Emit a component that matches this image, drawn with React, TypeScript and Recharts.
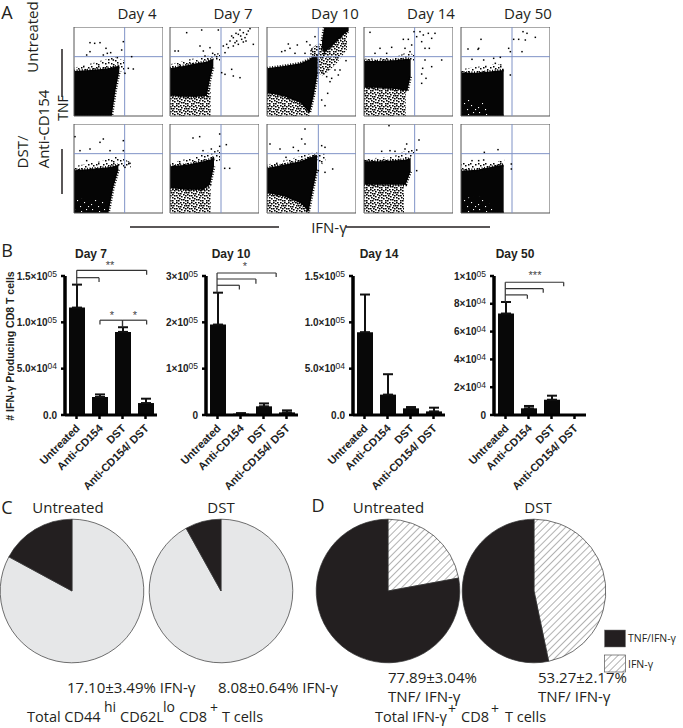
import React from "react";
import {
  Area,
  Bar,
  BarChart,
  Cell,
  ComposedChart,
  ErrorBar,
  Pie,
  PieChart,
  ReferenceArea,
  ReferenceLine,
  Scatter,
  XAxis,
  YAxis,
} from "recharts";

// flow plots: [x, low, high] outlines and [x, y] events, channel scale 0-267
type Band = [number, number, number];
type Dot = [number, number];

const channelTicks = [0, 20, 32, 40, 88, 110, 122, 130, 175, 198, 210, 218, 258];
const tnfGate = 178;

const d4uCore: Band[] = [[0, 0, 135], [50, 0, 138], [90, 0, 142], [113, 0, 145], [125, 80, 148], [136, 135, 152]];
const d4uFringe: Band[] = [[0, 130, 145], [60, 135, 160], [120, 140, 178], [155, 130, 165]];
const d4uDots: Dot[] = [[48, 220], [62, 218], [78, 220], [96, 203], [100, 188], [38, 183], [118, 168], [148, 223], [143, 198], [173, 178], [178, 141], [163, 143], [153, 128], [48, 193], [88, 183], [110, 190], [130, 175]];

const d7uCore: Band[] = [[0, 63, 143], [40, 58, 150], [80, 58, 158], [110, 60, 163], [120, 110, 168], [130, 150, 172]];
const d7uLow: Band[] = [[0, 0, 70], [60, 0, 65], [110, 0, 65], [122, 0, 100]];
const d7uFringe: Band[] = [[0, 140, 155], [60, 150, 170], [110, 160, 180], [150, 165, 190]];
const d7uDots: Dot[] = [[170, 215], [190, 235], [205, 245], [220, 250], [230, 245], [200, 225], [180, 225], [215, 230], [195, 220], [225, 235], [210, 258], [235, 255], [185, 240], [205, 215], [175, 205], [160, 210], [240, 262], [220, 222], [190, 210], [212, 240], [198, 248], [228, 225], [165, 190], [50, 250], [95, 258], [145, 258], [90, 210], [100, 195], [120, 205], [105, 180], [25, 195], [15, 195], [128, 188], [140, 178], [155, 130], [165, 125], [185, 140], [190, 120], [210, 115], [250, 215]];

const d10uCore: Band[] = [[0, 70, 143], [50, 60, 150], [100, 40, 158], [128, 10, 170], [140, 60, 178], [152, 130, 182]];
const d10uHigh: Band[] = [[165, 205, 225], [172, 190, 267], [200, 215, 267], [230, 245, 267], [245, 255, 267]];
const d10uLow: Band[] = [[0, 0, 75], [50, 0, 65], [100, 0, 50], [128, 0, 30]];
const d10uBridge: Band[] = [[130, 150, 200], [150, 130, 215], [170, 120, 220], [210, 160, 250], [240, 200, 262]];
const d10uDots: Dot[] = [[64, 216], [91, 213], [54, 196], [69, 203], [84, 188], [119, 223], [129, 213], [144, 238], [134, 198], [114, 188], [44, 193], [182, 68], [164, 48], [174, 31], [189, 103], [204, 138], [219, 138], [237, 166], [194, 113], [179, 118], [169, 128], [214, 123]];

const d14uCore: Band[] = [[0, 85, 165], [50, 85, 165], [100, 80, 168], [130, 75, 172], [140, 120, 170]];
const d14uLow: Band[] = [[0, 0, 90], [60, 0, 85], [115, 0, 80], [125, 0, 85]];
const d14uFringe: Band[] = [[0, 165, 172], [90, 165, 175], [125, 170, 190], [150, 165, 185]];
const d14uDots: Dot[] = [[150, 253], [168, 253], [178, 243], [193, 248], [213, 248], [203, 233], [173, 223], [183, 203], [196, 203], [158, 238], [18, 251], [48, 203], [33, 188], [83, 206], [118, 230], [133, 230], [123, 203], [143, 213], [138, 193], [68, 188], [183, 168], [233, 168], [203, 148], [176, 143], [173, 126], [186, 113], [173, 98]];

const d50uCore: Band[] = [[0, 0, 130], [50, 0, 130], [100, 0, 135], [128, 0, 138]];
const d50uHoles: Band[] = [[5, 3, 50], [60, 3, 45], [90, 3, 15]];
const d50uFringe: Band[] = [[0, 125, 140], [100, 130, 155], [130, 135, 155]];
const d50uDots: Dot[] = [[21, 201], [53, 203], [51, 200], [60, 230], [158, 230], [173, 230], [186, 253], [198, 248], [193, 228], [223, 236], [183, 193], [143, 203], [148, 193], [33, 170], [68, 168], [98, 173], [118, 176], [103, 158], [148, 123]];

const d4tCore: Band[] = [[0, 0, 128], [50, 0, 132], [103, 0, 137], [118, 77, 140], [133, 130, 145]];
const d4tHoles: Band[] = [[3, 3, 40], [50, 3, 50], [95, 3, 30]];
const d4tFringe: Band[] = [[0, 128, 140], [80, 132, 155], [130, 140, 170], [170, 135, 152]];
const d4tDots: Dot[] = [[3, 229], [88, 222], [78, 212], [48, 192], [18, 187], [38, 157], [108, 187], [148, 217], [148, 187], [168, 149], [153, 137]];

const d7tCore: Band[] = [[0, 75, 140], [50, 70, 145], [100, 70, 155], [120, 85, 160], [132, 140, 168]];
const d7tLow: Band[] = [[0, 0, 80], [60, 0, 72], [110, 0, 75], [122, 0, 80]];
const d7tFringe: Band[] = [[0, 140, 150], [60, 145, 165], [110, 155, 180], [150, 155, 190]];
const d7tDots: Dot[] = [[69, 225], [89, 229], [149, 237], [169, 205], [149, 200], [124, 192], [164, 134], [179, 134], [99, 187]];

const d10tCore: Band[] = [[0, 60, 135], [50, 50, 145], [100, 30, 155], [125, 5, 165], [140, 80, 170], [150, 130, 175]];
const d10tLow: Band[] = [[0, 0, 65], [50, 0, 55], [100, 0, 35], [128, 0, 10]];
const d10tFringe: Band[] = [[0, 130, 145], [80, 150, 165], [140, 165, 182], [175, 140, 178]];
const d10tDots: Dot[] = [[114, 252], [104, 222], [114, 207], [9, 207], [39, 192], [79, 197], [94, 187], [164, 202], [174, 197], [197, 132], [174, 122], [154, 127], [57, 167]];

const d14tCore: Band[] = [[0, 85, 155], [50, 85, 155], [100, 85, 158], [125, 85, 160], [140, 125, 165]];
const d14tLow: Band[] = [[0, 0, 90], [50, 0, 85], [115, 0, 85], [120, 0, 90]];
const d14tFringe: Band[] = [[0, 150, 162], [90, 155, 170], [130, 160, 190], [150, 175, 190]];
const d14tDots: Dot[] = [[75, 262], [165, 219], [158, 189], [128, 207], [78, 187], [53, 185], [93, 185], [123, 192], [158, 127]];

const d50tCore: Band[] = [[0, 0, 127], [50, 0, 130], [100, 0, 140], [128, 0, 145]];
const d50tHoles: Band[] = [[5, 3, 45], [60, 3, 50], [95, 3, 20]];
const d50tFringe: Band[] = [[0, 125, 150], [90, 130, 150], [130, 140, 160]];
const d50tDots: Dot[] = [[111, 190], [70, 182], [33, 157], [53, 157], [68, 159], [151, 147], [151, 132]];

// hand-placed grains for the dense and thin fill textures
const denseGrains: Dot[] = [[0, 0], [2, 1], [4, 0], [6, 1], [8, 0], [10, 1], [12, 0], [13, 2], [1, 3], [3, 3], [5, 3], [8, 3], [10, 4], [12, 4], [0, 5], [2, 6], [4, 5], [6, 6], [8, 6], [11, 6], [13, 7], [1, 8], [4, 8], [6, 9], [9, 8], [11, 9], [13, 10], [0, 10], [2, 11], [4, 11], [8, 11], [10, 11]];
const thinGrains: Dot[] = [[1, 1], [4, 0], [6, 2], [9, 1], [11, 0], [13, 3], [3, 5], [6, 6], [9, 5], [13, 7], [0, 9], [3, 10], [6, 9], [9, 10], [11, 11]];
const holeGrains: Dot[] = [[2, 1], [9, 3], [14, 1], [5, 6], [12, 8], [1, 10], [8, 12], [16, 12]];

// bars
const groups = ["Untreated", "Anti-CD154", "DST", "Anti-CD154/ DST"];
const groupSlots = [0.5, 1.5, 2.5, 3.5];

const day7Means = [115900, 19400, 89700, 12900];
const day7Errors = [24800, 2800, 5000, 4700];
const day10Means = [195200, 3000, 18700, 5700];
const day10Errors = [68800, 1000, 6300, 4300];
const day14Means = [89400, 22000, 7200, 3900];
const day14Errors = [40600, 22000, 1400, 4000];
const day50Means = [73000, 4800, 11000, 0];
const day50Errors = [8300, 1700, 2900, 0];

const day7Ticks = [0, 50000, 100000, 150000];
const day7Labels = ["0.0", "5.0×10|04", "1.0×10|05", "1.5×10|05"];
const day10Ticks = [0, 100000, 200000, 300000];
const day10Labels = ["0", "1×10|05", "2×10|05", "3×10|05"];
const day50Ticks = [0, 20000, 40000, 60000, 80000, 100000];
const day50Labels = ["0", "2×10|04", "4×10|04", "6×10|04", "8×10|04", "1×10|05"];

// brackets: from, to (in group widths), top, left end, right end
type Bracket = [number, number, number, number, number];
const day7Brackets: Bracket[] = [
  [0.51, 3.55, 156100, 140700, 151400],
  [0.51, 1.48, 148200, 148200, 143500],
  [1.52, 2.5, 102300, 97600, 94700],
  [2.5, 3.55, 102300, 94700, 97600],
];
const day10Brackets: Bracket[] = [
  [0.48, 3.05, 306500, 264000, 298000],
  [0.48, 2.17, 293500, 293500, 283500],
  [0.48, 1.45, 280000, 280000, 271000],
];
const day50Brackets: Bracket[] = [
  [0.49, 3.03, 95500, 81300, 92600],
  [0.49, 2.14, 90900, 90900, 88000],
  [0.49, 1.45, 86400, 86400, 83700],
];

// pies
const cUntreated = [82.9, 17.1];
const cDst = [91.92, 8.08];
const dUntreated = [22.11, 77.89];
const dDst = [46.73, 53.27];

const ink = "#231f20";
const gateBlue = "#7f92c6";
const sans = "'Open Sans', sans-serif";
const arial = "'Liberation Sans', Arial, sans-serif";

function toRows(bands: Band[]) {
  return bands.map(([x, low, high]) => ({ x, band: [low, high] }));
}

const DotShape = (props: any) => <rect x={props.cx - 0.75} y={props.cy - 0.75} width={1.5} height={1.5} fill="#000" />;

function FlowPlot({ left, top, gate, solid = [], haze = [], fringe = [], holes = [], dots }: {
  left: number;
  top: number;
  gate: number;
  solid?: Band[][];
  haze?: Band[][];
  fringe?: Band[][];
  holes?: Band[][];
  dots: Dot[];
}) {
  const textured = (bands: Band[][], prefix: string, fill: string) =>
    bands.map((b, i) => (
      <Area key={prefix + i} data={toRows(b)} dataKey="band" type="linear" stroke="none" fill={fill} fillOpacity={1} dot={false} activeDot={false} isAnimationActive={false} />
    ));
  return (
    <div style={{ position: "absolute", left: left - 2, top }}>
      <ComposedChart width={91} height={91} margin={{ top: 0, right: 0, bottom: 2, left: 2 }}>
        <XAxis type="number" dataKey="x" domain={[0, 267]} ticks={channelTicks} height={0} tickSize={2} axisLine={false} tickFormatter={() => ""} stroke="#333" allowDataOverflow />
        <YAxis type="number" dataKey="y" domain={[0, 267]} ticks={channelTicks} width={0} tickSize={2} axisLine={false} tickFormatter={() => ""} stroke="#333" allowDataOverflow />
        {textured(fringe, "f", "url(#thin)")}
        {textured(haze, "h", "url(#speckle)")}
        {solid.map((b, i) => (
          <Area key={"s" + i} data={toRows(b)} dataKey="band" type="linear" stroke="#000" strokeWidth={3} strokeDasharray="1 1.6" fill="#050505" fillOpacity={1} dot={false} activeDot={false} isAnimationActive={false} />
        ))}
        {textured(holes, "o", "url(#holes)")}
        <Scatter data={dots.map(([x, y]) => ({ x, y }))} shape={DotShape} isAnimationActive={false} />
        <ReferenceLine x={gate} stroke={gateBlue} strokeWidth={1} />
        <ReferenceLine y={tnfGate} stroke={gateBlue} strokeWidth={1} />
        <ReferenceArea x1={0} x2={267} y1={0} y2={267} fill="none" stroke="#555" strokeWidth={1} />
      </ComposedChart>
    </div>
  );
}

const ValueTick = ({ x, y, index, labels }: any) => {
  const [base, exp] = labels[index].split("|");
  return (
    <text x={x - 2} y={y + 3.5} textAnchor="end" fontFamily={arial} fontWeight="bold" fontSize={10} fill="#222">
      {base}
      {exp && <tspan fontSize={8.5} fontWeight="normal" dy={-3}>{exp}</tspan>}
    </text>
  );
};

const GroupTick = ({ x, y, payload }: any) => (
  <text x={x + 4} y={y + 8} transform={`rotate(-45 ${x + 4} ${y + 8})`} textAnchor="end" fontFamily={arial} fontWeight="bold" fontSize={11} fill="#222">
    {payload.value}
  </text>
);

function BarPanel({ axisX, means, errors, ticks, labels, max, brackets = [] }: {
  axisX: number;
  means: number[];
  errors: number[];
  ticks: number[];
  labels: string[];
  max: number;
  brackets?: Bracket[];
}) {
  const rows = groups.map((group, i) => ({ group, slot: groupSlots[i], mean: means[i], err: [0, errors[i]] }));
  const bracketLines: [number, number, number, number][] = [];
  brackets.forEach(([from, to, topY, leftEnd, rightEnd]) => {
    bracketLines.push([from, topY, to, topY], [from, topY, from, leftEnd], [to, topY, to, rightEnd]);
  });
  return (
    <div style={{ position: "absolute", left: axisX - 60, top: 256 }}>
      <BarChart width={172} height={239} data={rows} margin={{ top: 20, right: 20, bottom: 0, left: 0 }} style={{ overflow: "visible" }}>
        <XAxis dataKey="group" height={80} interval={0} tickSize={4} tick={<GroupTick />} axisLine={{ stroke: "#000", strokeWidth: 3 }} tickLine={{ stroke: "#000", strokeWidth: 2.5 }} />
        <XAxis xAxisId="band" dataKey="slot" type="number" domain={[0, 4]} allowDataOverflow hide />
        <YAxis width={60} domain={[0, max]} ticks={ticks} interval={0} tickSize={4} tick={<ValueTick labels={labels} />} axisLine={{ stroke: "#000", strokeWidth: 3.5 }} tickLine={{ stroke: "#000", strokeWidth: 2.5 }} />
        <Bar dataKey="mean" barSize={16} fill="#080808" isAnimationActive={false}>
          <ErrorBar dataKey="err" direction="y" width={5} stroke="#111" strokeWidth={2} isAnimationActive={false} />
        </Bar>
        {bracketLines.map(([x1, y1, x2, y2], i) => (
          <ReferenceLine
            key={i}
            xAxisId="band"
            ifOverflow="visible"
            segment={[{ x: x1, y: y1 }, { x: x2, y: y2 }]}
            stroke="#333"
            strokeWidth={1.2}
          />
        ))}
      </BarChart>
    </div>
  );
}

function PiePanel({ cx, values, colors }: { cx: number; values: number[]; colors: string[] }) {
  const rows = values.map((value) => ({ value }));
  return (
    <div style={{ position: "absolute", left: cx - 73, top: 518 }}>
      <PieChart width={146} height={146} margin={{ top: 0, right: 0, bottom: 0, left: 0 }}>
        <Pie data={rows} dataKey="value" cx={73} cy={73} innerRadius={0} outerRadius={71.8} startAngle={90} endAngle={-270} stroke="#333" strokeWidth={0.7} isAnimationActive={false}>
          {rows.map((_, i) => (
            <Cell key={i} fill={colors[i]} />
          ))}
        </Pie>
      </PieChart>
    </div>
  );
}

const Label = ({ x, y, size = 15, rotate, anchor = "middle", font = sans, bold, color = ink, children }: any) => (
  <text
    x={x}
    y={y}
    fontSize={size}
    fontFamily={font}
    fontWeight={bold ? "bold" : "normal"}
    textAnchor={anchor}
    dominantBaseline="central"
    fill={color}
    transform={rotate ? `rotate(${rotate} ${x} ${y})` : undefined}
  >
    {children}
  </text>
);

function Annotations() {
  return (
    <svg width={683} height={728} style={{ position: "absolute", left: 0, top: 0, pointerEvents: "none" }}>
      <Label x={7} y={12} size={18}>A</Label>
      <Label x={137} y={13}>Day 4</Label>
      <Label x={233} y={13}>Day 7</Label>
      <Label x={335} y={13}>Day 10</Label>
      <Label x={431} y={13}>Day 14</Label>
      <Label x={528} y={13}>Day 50</Label>
      <Label x={32} y={37} rotate={-90}>Untreated</Label>
      <Label x={22} y={152} rotate={-90}>DST/</Label>
      <Label x={43} y={129} rotate={-90}>Anti-CD154</Label>
      <Label x={62} y={108} size={14} rotate={-90}>TNF</Label>
      <line x1={62} y1={49} x2={62} y2={97} stroke={ink} strokeWidth={1.5} />
      <line x1={62} y1={149} x2={62} y2={194} stroke={ink} strokeWidth={1.5} />
      <line x1={130} y1={227} x2={279} y2={227} stroke={ink} strokeWidth={1.5} />
      <line x1={346} y1={227} x2={490} y2={227} stroke={ink} strokeWidth={1.5} />
      <Label x={329} y={227}>IFN-γ</Label>

      <Label x={7} y={250} size={18}>B</Label>
      <Label x={91} y={254} size={12} font={arial} bold>Day 7</Label>
      <Label x={231} y={254} size={12} font={arial} bold>Day 10</Label>
      <Label x={379} y={254} size={12} font={arial} bold>Day 14</Label>
      <Label x={515} y={254} size={12} font={arial} bold>Day 50</Label>
      <Label x={10} y={346} size={10.5} rotate={-90} font={arial} bold># IFN-γ Producing CD8 T cells</Label>
      <Label x={110} y={265} size={11} font={arial} color="#444">**</Label>
      <Label x={112} y={315} size={11} font={arial} color="#444">*</Label>
      <Label x={135} y={315} size={11} font={arial} color="#444">*</Label>
      <Label x={245} y={266} size={11} font={arial} color="#444">*</Label>
      <Label x={535} y={275} size={11} font={arial} color="#444">***</Label>

      <Label x={7} y={507} size={18}>C</Label>
      <Label x={68} y={507}>Untreated</Label>
      <Label x={221} y={507}>DST</Label>
      <Label x={318} y={505} size={18}>D</Label>
      <Label x={388.5} y={507}>Untreated</Label>
      <Label x={538} y={507}>DST</Label>

      <Label x={67} y={687} size={15} anchor="start">17.10±3.49% IFN-γ</Label>
      <Label x={218} y={687} size={15} anchor="start">8.08±0.64% IFN-γ</Label>
      <text y={722} fontFamily={sans} fontSize={14.5} fill={ink}>
        <tspan x={27}>Total CD44</tspan>
        <tspan x={104} fontSize={14} dy={-10}>hi</tspan>
        <tspan x={120} dy={10}>CD62L</tspan>
        <tspan x={163} fontSize={14} dy={-10}>lo</tspan>
        <tspan x={179} dy={10}>CD8</tspan>
        <tspan x={210} fontSize={14} dy={-9}>+</tspan>
        <tspan x={222} dy={9}>T cells</tspan>
      </text>
      <Label x={388} y={677} size={15} anchor="start">77.89±3.04%</Label>
      <Label x={388} y={696} size={15} anchor="start">TNF/ IFN-γ</Label>
      <Label x={538} y={677} size={15} anchor="start">53.27±2.17%</Label>
      <Label x={538} y={696} size={15} anchor="start">TNF/ IFN-γ</Label>
      <text y={722} fontFamily={sans} fontSize={14.5} fill={ink}>
        <tspan x={375}>Total IFN-γ</tspan>
        <tspan x={448} fontSize={14} dy={-8}>+</tspan>
        <tspan x={461} dy={8}>CD8</tspan>
        <tspan x={491} fontSize={14} dy={-8}>+</tspan>
        <tspan x={505} dy={8}>T cells</tspan>
      </text>

      <rect x={604.5} y={630} width={21} height={17} fill={ink} stroke="#777" strokeWidth={0.5} />
      <rect x={604.5} y={655} width={21} height={17} fill="url(#hatch)" stroke="#555" strokeWidth={0.7} />
      <Label x={628} y={638} size={10.5} anchor="start">TNF/IFN-γ</Label>
      <Label x={628} y={664} size={10.5} anchor="start">IFN-γ</Label>
    </svg>
  );
}

export default function App() {
  const gray = "#e6e7e8";
  return (
    <div style={{ position: "absolute", left: 0, top: 0, width: 683, height: 728, background: "#fff", overflow: "hidden" }}>
      <svg width={0} height={0} style={{ position: "absolute" }}>
        <defs>
          <pattern id="speckle" width={15} height={13} patternUnits="userSpaceOnUse">
            {denseGrains.map(([x, y], i) => (
              <rect key={i} x={x} y={y} width={1.6} height={1.5} fill="#000" />
            ))}
          </pattern>
          <pattern id="thin" width={15} height={13} patternUnits="userSpaceOnUse">
            {thinGrains.map(([x, y], i) => (
              <rect key={i} x={x} y={y} width={1.5} height={1.5} fill="#000" />
            ))}
          </pattern>
          <pattern id="holes" width={18} height={14} patternUnits="userSpaceOnUse">
            {holeGrains.map(([x, y], i) => (
              <rect key={i} x={x} y={y} width={1.1} height={1.1} fill="#fff" />
            ))}
          </pattern>
          <pattern id="hatch" width={5} height={5} patternUnits="userSpaceOnUse" patternTransform="rotate(45)">
            <rect width={5} height={5} fill="#fff" />
            <line x1={0} y1={0} x2={0} y2={5} stroke="#555" strokeWidth={0.9} />
          </pattern>
        </defs>
      </svg>

      <FlowPlot left={74} top={27} gate={152} solid={[d4uCore]} fringe={[d4uFringe]} dots={d4uDots} />
      <FlowPlot left={170} top={27} gate={153} solid={[d7uCore]} haze={[d7uLow]} fringe={[d7uFringe]} dots={d7uDots} />
      <FlowPlot left={267} top={27} gate={154} solid={[d10uCore, d10uHigh]} haze={[d10uLow, d10uBridge]} dots={d10uDots} />
      <FlowPlot left={364} top={27} gate={152} solid={[d14uCore]} haze={[d14uLow]} fringe={[d14uFringe]} dots={d14uDots} />
      <FlowPlot left={461} top={27} gate={153} solid={[d50uCore]} fringe={[d50uFringe]} holes={[d50uHoles]} dots={d50uDots} />

      <FlowPlot left={74} top={124} gate={152} solid={[d4tCore]} fringe={[d4tFringe]} holes={[d4tHoles]} dots={d4tDots} />
      <FlowPlot left={170} top={124} gate={153} solid={[d7tCore]} haze={[d7tLow]} fringe={[d7tFringe]} dots={d7tDots} />
      <FlowPlot left={267} top={124} gate={154} solid={[d10tCore]} haze={[d10tLow]} fringe={[d10tFringe]} dots={d10tDots} />
      <FlowPlot left={364} top={124} gate={152} solid={[d14tCore]} haze={[d14tLow]} fringe={[d14tFringe]} dots={d14tDots} />
      <FlowPlot left={461} top={124} gate={153} solid={[d50tCore]} fringe={[d50tFringe]} holes={[d50tHoles]} dots={d50tDots} />

      <BarPanel axisX={65} means={day7Means} errors={day7Errors} ticks={day7Ticks} labels={day7Labels} max={150000} brackets={day7Brackets} />
      <BarPanel axisX={206} means={day10Means} errors={day10Errors} ticks={day10Ticks} labels={day10Labels} max={300000} brackets={day10Brackets} />
      <BarPanel axisX={353} means={day14Means} errors={day14Errors} ticks={day7Ticks} labels={day7Labels} max={150000} />
      <BarPanel axisX={494} means={day50Means} errors={day50Errors} ticks={day50Ticks} labels={day50Labels} max={100000} brackets={day50Brackets} />

      <PiePanel cx={72} values={cUntreated} colors={[gray, ink]} />
      <PiePanel cx={221} values={cDst} colors={[gray, ink]} />
      <PiePanel cx={387.6} values={dUntreated} colors={["url(#hatch)", ink]} />
      <PiePanel cx={534} values={dDst} colors={["url(#hatch)", ink]} />

      <Annotations />
    </div>
  );
}
